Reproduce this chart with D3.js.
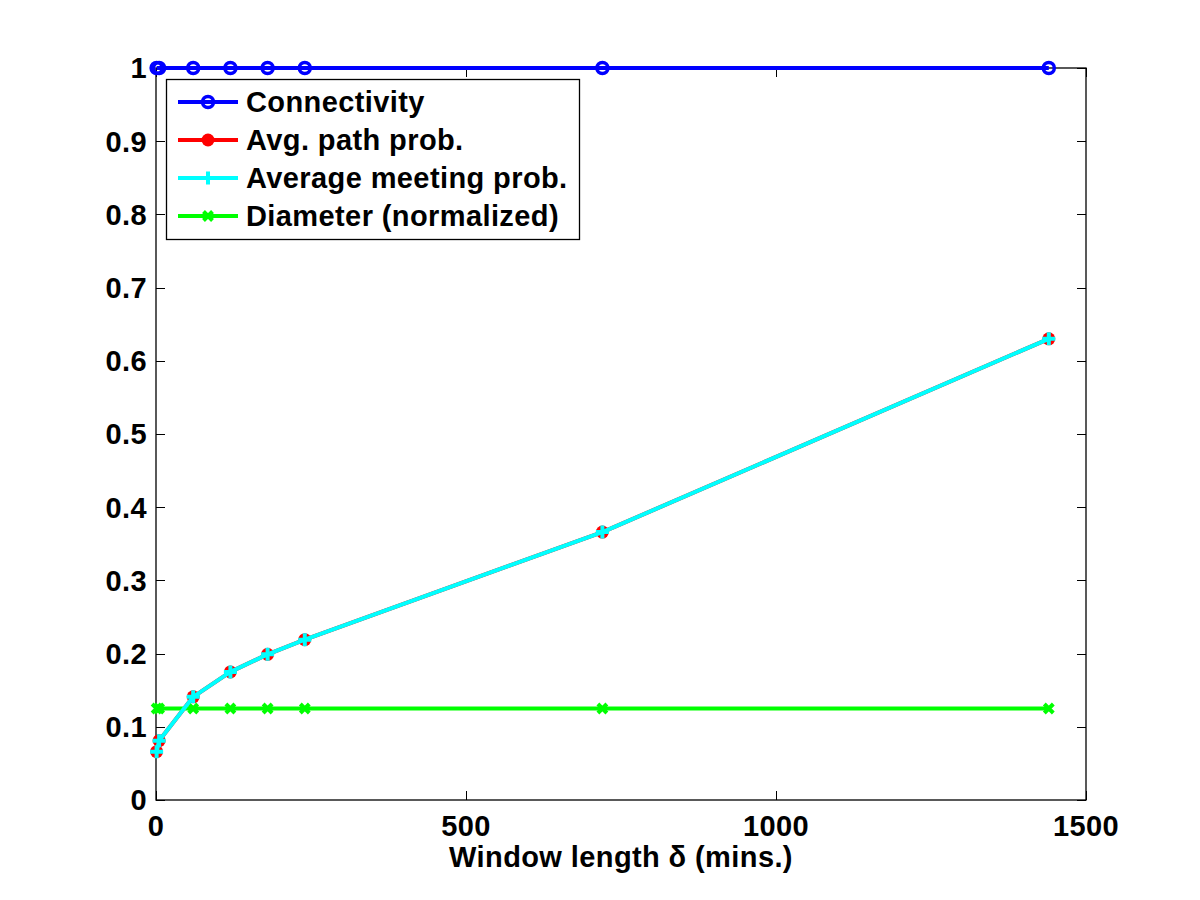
<!DOCTYPE html>
<html><head><meta charset="utf-8">
<script src="https://cdn.jsdelivr.net/npm/d3@7"></script>
<style>body{margin:0;background:#fff;} text{font-family:"Liberation Sans",Arial,sans-serif;font-weight:bold;letter-spacing:0.4px;}</style>
</head><body><svg id="c" width="1200" height="900"></svg>
<script>
const windowLen = [1, 5, 60, 120, 180, 240, 720, 1440];
const connectivity = [1, 1, 1, 1, 1, 1, 1, 1];
const avgPathProb = [0.066, 0.081, 0.141, 0.175, 0.199, 0.219, 0.366, 0.630];
const avgMeetingProb = [0.066, 0.081, 0.141, 0.175, 0.199, 0.219, 0.366, 0.630];
const diameterNorm = [0.125, 0.125, 0.125, 0.125, 0.125, 0.125, 0.125, 0.125];
const xTicks = [0, 500, 1000, 1500];
const yTicks = [0, 0.1, 0.2, 0.3, 0.4, 0.5, 0.6, 0.7, 0.8, 0.9, 1];
const seriesNames = ["Connectivity", "Avg. path prob.", "Average meeting prob.", "Diameter (normalized)"];
const xLabel = "Window length \u03b4 (mins.)";

const svg = d3.select("#c");
const L = 156, R = 1086, T = 68, B = 800;
const x = d3.scaleLinear().domain([0, 1500]).range([L, R]);
const y = d3.scaleLinear().domain([0, 1]).range([B, T]);
const fs = 29;

const series = [
  {name: seriesNames[0], vals: connectivity, color: "#0000ff", marker: "o"},
  {name: seriesNames[1], vals: avgPathProb, color: "#ff0000", marker: "."},
  {name: seriesNames[3], vals: diameterNorm, color: "#00ff00", marker: "x"},
  {name: seriesNames[2], vals: avgMeetingProb, color: "#00ffff", marker: "+"}
];

function drawMarker(g, type, cx, cy, color) {
  if (type === "o") {
    g.append("circle").attr("cx", cx).attr("cy", cy).attr("r", 5.5)
      .attr("fill", "none").attr("stroke", color).attr("stroke-width", 3.5);
  } else if (type === ".") {
    g.append("circle").attr("cx", cx).attr("cy", cy).attr("r", 6.5).attr("fill", color);
  } else if (type === "+") {
    const s = 6.5;
    g.append("path").attr("d", `M${cx-s},${cy}L${cx+s},${cy}M${cx},${cy-s}L${cx},${cy+s}`)
      .attr("stroke", color).attr("stroke-width", 4);
  } else if (type === "x") {
    const s = 4.5;
    g.append("path").attr("d", `M${cx-s},${cy-s}L${cx+s},${cy+s}M${cx-s},${cy+s}L${cx+s},${cy-s}`)
      .attr("stroke", color).attr("stroke-width", 4);
  }
}

// axes box
const ax = svg.append("g");
ax.append("rect").attr("x", L).attr("y", T).attr("width", R - L).attr("height", B - T)
  .attr("fill", "none").attr("stroke", "#000").attr("stroke-width", 1.3);

const tl = 9;
yTicks.forEach(t => {
  const yy = Math.round(y(t)) + 0.5;
  ax.append("line").attr("x1", L).attr("x2", L + tl).attr("y1", yy).attr("y2", yy).attr("stroke", "#000");
  ax.append("line").attr("x1", R - tl).attr("x2", R).attr("y1", yy).attr("y2", yy).attr("stroke", "#000");
  ax.append("text").attr("x", L - 9).attr("y", y(t)).attr("dy", "0.36em").attr("text-anchor", "end")
    .attr("font-size", fs).text(d3.format("")(t));
});
xTicks.forEach(t => {
  const xx = Math.round(x(t)) + 0.5;
  ax.append("line").attr("x1", xx).attr("x2", xx).attr("y1", B).attr("y2", B - tl).attr("stroke", "#000");
  ax.append("line").attr("x1", xx).attr("x2", xx).attr("y1", T).attr("y2", T + tl).attr("stroke", "#000");
  ax.append("text").attr("x", x(t)).attr("y", B + 36).attr("text-anchor", "middle")
    .attr("font-size", fs).text(t);
});
svg.append("text").attr("x", (L + R) / 2).attr("y", 867).attr("text-anchor", "middle")
  .attr("font-size", fs).text(xLabel);

const line = d3.line().x(d => x(d[0])).y(d => y(d[1]));
const plot = svg.append("g");
series.forEach(s => {
  const pts = windowLen.map((w, i) => [w, s.vals[i]]);
  plot.append("path").attr("d", line(pts)).attr("fill", "none").attr("stroke", s.color)
    .attr("stroke-width", 4).attr("stroke-linejoin", "round");
  const mg = plot.append("g");
  pts.forEach(p => drawMarker(mg, s.marker, x(p[0]), y(p[1]), s.color));
});

// legend
const lg = svg.append("g");
lg.append("rect").attr("x", 166.5).attr("y", 79.5).attr("width", 413).attr("height", 160)
  .attr("fill", "#fff").attr("stroke", "#000").attr("stroke-width", 1.3);
const legendItems = [
  {name: seriesNames[0], color: "#0000ff", marker: "o"},
  {name: seriesNames[1], color: "#ff0000", marker: "."},
  {name: seriesNames[2], color: "#00ffff", marker: "+"},
  {name: seriesNames[3], color: "#00ff00", marker: "x"}
];
legendItems.forEach((it, i) => {
  const yy = 102 + i * 38;
  lg.append("line").attr("x1", 178).attr("x2", 238).attr("y1", yy).attr("y2", yy)
    .attr("stroke", it.color).attr("stroke-width", 4);
  drawMarker(lg, it.marker, 208, yy, it.color);
  lg.append("text").attr("x", 246).attr("y", yy).attr("dy", "0.36em").attr("font-size", fs).text(it.name);
});
</script></body></html>
